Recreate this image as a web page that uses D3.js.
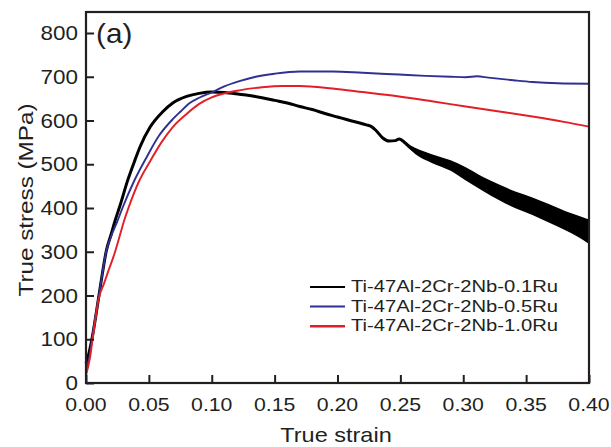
<!DOCTYPE html>
<html><head><meta charset="utf-8">
<script src="https://cdn.jsdelivr.net/npm/d3@7"></script>
<style>
html,body{margin:0;padding:0;background:#fff;}
svg{display:block;}
text{font-family:"Liberation Sans",Arial,sans-serif;fill:#231f20;}
</style></head>
<body>
<svg id="chart" width="611" height="447"></svg>
<script>
// ---- data ----
const seriesNames = ["Ti-47Al-2Cr-2Nb-0.1Ru", "Ti-47Al-2Cr-2Nb-0.5Ru", "Ti-47Al-2Cr-2Nb-1.0Ru"];
const seriesColors = ["#000000", "#2e3192", "#e41e26"];

const strainBlack = [0, 0.002, 0.005, 0.0103, 0.013, 0.016, 0.020, 0.023, 0.027, 0.033, 0.039, 0.043, 0.051, 0.061, 0.069, 0.080, 0.090, 0.100, 0.110, 0.122, 0.130, 0.140, 0.150, 0.160, 0.170, 0.180, 0.190, 0.200, 0.210, 0.217, 0.223, 0.227, 0.231, 0.236, 0.241, 0.246, 0.249, 0.253, 0.258, 0.262, 0.275, 0.290, 0.302, 0.315, 0.329, 0.342, 0.355, 0.368, 0.382, 0.390, 0.400];
const stressBlack = [45, 64, 105, 200, 250, 300, 340, 370, 405, 462, 510, 540, 585, 620, 640, 655, 662, 665, 664, 660, 657, 652, 646, 640, 632, 625, 616, 608, 600, 595, 590, 586, 576, 560, 553, 554, 558, 551, 538, 530, 513, 497, 478, 456, 435, 418, 404, 388, 370, 360, 347];

// oscillation envelope of the 0.1Ru curve at large strain
const bandStrain = [0.252, 0.262, 0.275, 0.290, 0.302, 0.315, 0.329, 0.342, 0.355, 0.368, 0.382, 0.390, 0.400];
const bandHigh   = [553, 537, 523, 509, 493, 472, 453, 437, 424, 409, 392, 384, 374];
const bandLow    = [549, 523, 503, 485, 463, 440, 417, 399, 384, 367, 348, 336, 318];

const strainBlue = [0, 0.003, 0.005, 0.0103, 0.013, 0.016, 0.020, 0.025, 0.029, 0.038, 0.048, 0.058, 0.069, 0.075, 0.0825, 0.090, 0.100, 0.110, 0.122, 0.135, 0.150, 0.170, 0.196, 0.220, 0.249, 0.270, 0.290, 0.302, 0.311, 0.320, 0.340, 0.355, 0.375, 0.400];
const stressBlue = [25, 64, 105, 200, 250, 300, 335, 370, 400, 460, 515, 565, 603, 620, 640, 652, 664, 678, 690, 700, 707, 712, 712, 709, 705, 702, 700, 699, 701, 698, 692, 688, 685, 684];

const strainRed = [0, 0.003, 0.005, 0.0103, 0.0143, 0.018, 0.022, 0.026, 0.030, 0.035, 0.042, 0.051, 0.060, 0.069, 0.080, 0.090, 0.100, 0.110, 0.122, 0.140, 0.156, 0.170, 0.196, 0.220, 0.249, 0.275, 0.302, 0.330, 0.355, 0.380, 0.400];
const stressRed = [18, 55, 95, 195, 227, 258, 290, 328, 368, 410, 460, 507, 550, 585, 615, 638, 653, 662, 669, 676, 679, 679, 673, 665, 655, 644, 632, 620, 609, 597, 586];

const xTicks = [0, 0.05, 0.10, 0.15, 0.20, 0.25, 0.30, 0.35, 0.40];
const yTicks = [0, 100, 200, 300, 400, 500, 600, 700, 800];
const xTitle = "True strain";
const yTitle = "True stress (MPa)";
const panelLabel = "(a)";

// ---- layout ----
const svg = d3.select("#chart");
const pL = 86, pR = 589, pT = 12, pB = 383;
const x = d3.scaleLinear().domain([0, 0.4]).range([pL, pR]);
const y = d3.scaleLinear().domain([0, 848]).range([pB, pT]);

svg.append("rect").attr("width", 611).attr("height", 447).attr("fill", "#fff");

const zip = (xs, ys) => xs.map((v, i) => [v, ys[i]]);
const line = d3.line().x(d => x(d[0])).y(d => y(d[1])).curve(d3.curveMonotoneX);

const plot = svg.append("g");
plot.append("path")
  .datum(bandStrain.map((s, i) => ({s, lo: bandLow[i], hi: bandHigh[i]})))
  .attr("d", d3.area().x(d => x(d.s)).y0(d => y(d.lo)).y1(d => y(d.hi)).curve(d3.curveMonotoneX))
  .attr("fill", "#000");
plot.append("path").datum(zip(strainBlack, stressBlack)).attr("d", line)
  .attr("fill", "none").attr("stroke", seriesColors[0]).attr("stroke-width", 3).attr("stroke-linejoin", "round");
plot.append("path").datum(zip(strainBlue, stressBlue)).attr("d", line)
  .attr("fill", "none").attr("stroke", seriesColors[1]).attr("stroke-width", 1.9);
plot.append("path").datum(zip(strainRed, stressRed)).attr("d", line)
  .attr("fill", "none").attr("stroke", seriesColors[2]).attr("stroke-width", 1.9);

// axes (inward ticks)
const xAxis = svg.append("g").attr("transform", `translate(0,${pB})`)
  .call(d3.axisBottom(x).tickValues(xTicks).tickSize(-8).tickFormat(() => ""));
const yAxis = svg.append("g").attr("transform", `translate(${pL},0)`)
  .call(d3.axisLeft(y).tickValues(yTicks).tickSize(-8).tickFormat(() => ""));
[xAxis, yAxis].forEach(g => {
  g.select(".domain").remove();
  g.selectAll(".tick line").attr("stroke", "#231f20").attr("stroke-width", 2);
});

// tick labels
svg.append("g").selectAll("text").data(xTicks).join("text")
  .attr("transform", d => `translate(${x(d)},410.5) scale(1.12,1)`)
  .attr("text-anchor", "middle").attr("font-size", 19)
  .text(d => d3.format(".2f")(d));
svg.append("g").selectAll("text").data(yTicks).join("text")
  .attr("transform", d => `translate(78,${y(d) + 7}) scale(1.15,1)`)
  .attr("text-anchor", "end").attr("font-size", 19.5)
  .text(d => d);

// frame
svg.append("rect").attr("x", pL).attr("y", pT).attr("width", pR - pL).attr("height", pB - pT)
  .attr("fill", "none").attr("stroke", "#231f20").attr("stroke-width", 2.2);

// titles
svg.append("text").attr("transform", `translate(336,442) scale(1.12,1)`)
  .attr("text-anchor", "middle").attr("font-size", 21).text(xTitle);
svg.append("text").attr("transform", `translate(33,200) rotate(-90) scale(1.155,1)`)
  .attr("text-anchor", "middle").attr("font-size", 21).text(yTitle);
svg.append("text").attr("transform", `translate(96,42.5) scale(1.1,1)`)
  .attr("font-size", 27).text(panelLabel);

// legend
const legend = svg.append("g");
const legendRows = seriesNames.map((n, i) => ({n, c: seriesColors[i], i}));
const rowGap = 19.6;
legend.selectAll("line").data(legendRows).join("line")
  .attr("x1", 310).attr("x2", 345)
  .attr("y1", d => 287 + d.i * rowGap).attr("y2", d => 287 + d.i * rowGap)
  .attr("stroke", d => d.c).attr("stroke-width", d => d.i === 2 ? 2.4 : 2);
legend.selectAll("text").data(legendRows).join("text")
  .attr("x", 351).attr("y", d => 292 + d.i * rowGap)
  .attr("font-size", 17).attr("textLength", 207).attr("lengthAdjust", "spacingAndGlyphs")
  .text(d => d.n);
</script>
</body></html>
